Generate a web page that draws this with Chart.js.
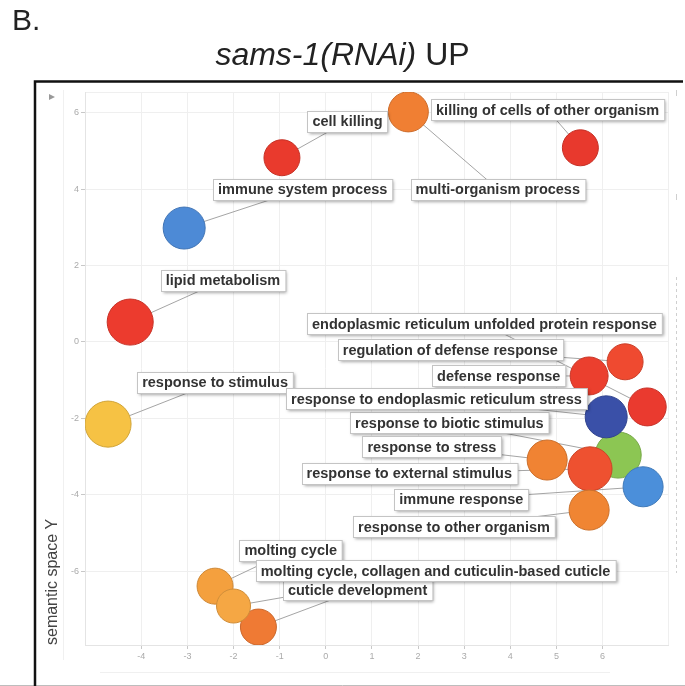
<!DOCTYPE html>
<html>
<head>
<meta charset="utf-8">
<title>sams-1(RNAi) UP</title>
<script src="https://cdn.jsdelivr.net/npm/chart.js"></script>
<style>
  body { margin: 0; background: #fff; font-family: "Liberation Sans", Arial, sans-serif; }
  #wrap { position: relative; width: 685px; height: 686px; overflow: hidden; }
  #panel { position: absolute; left: 12px; top: 3px; font-size: 30px; color: #222; }
  #title { position: absolute; left: 0; width: 685px; top: 36px; text-align: center; font-size: 32px; color: #222; }
  canvas { position: absolute; left: 0; top: 0; }
</style>
</head>
<body>
<div id="wrap">
  <canvas id="revigo" width="685" height="686"></canvas>
  <div id="panel">B.</div>
  <div id="title"><i>sams-1(RNAi)</i> UP</div>
</div>

<script>
// GO terms, semantic space coordinates and log10(size)
const terms = [
  'lipid metabolism', 'response to stimulus', 'immune system process', 'cell killing',
  'multi-organism process', 'killing of cells of other organism', 'response to biotic stimulus',
  'endoplasmic reticulum unfolded protein response', 'regulation of defense response',
  'defense response', 'response to endoplasmic reticulum stress', 'response to stress',
  'response to external stimulus', 'immune response', 'response to other organism',
  'molting cycle', 'cuticle development', 'molting cycle, collagen and cuticulin-based cuticle'
];
const semX = [-4.24, -4.72, -3.07, -0.95, 1.79, 5.52, 6.34, 6.97, 6.49, 5.71, 6.08, 4.80, 5.73, 6.88, 5.71, -2.40, -1.46, -2.00];
const semY = [0.52, -2.15, 2.98, 4.82, 6.02, 5.08, -2.96, -1.70, -0.52, -0.89, -1.96, -3.09, -3.32, -3.79, -4.40, -6.39, -7.46, -6.91];
const logSize = [3.29, 3.29, 3.0, 2.57, 2.86, 2.57, 3.29, 2.71, 2.57, 2.71, 3.0, 2.86, 3.14, 2.86, 2.86, 2.57, 2.57, 2.43];

// label placement (semantic space units) and bubble colours
const labelX = [-2.23, -2.40, -0.50, 0.47, 3.73, 4.81, 2.68, 3.44, 2.70, 3.75, 2.40, 2.30, 1.81, 2.94, 2.78, -0.76, 0.69, 2.38];
const labelY = [1.61, -1.05, 4.00, 5.78, 4.00, 6.07, -2.11, 0.47, -0.20, -0.89, -1.48, -2.74, -3.44, -4.11, -4.84, -5.45, -6.49, -5.99];
const bubbleColors = [
  '#ec3b2e', '#f6c244', '#4d8ad6', '#e93a2d', '#f07f33', '#e8392d', '#8cc653',
  '#ea3a2f', '#ef4a30', '#eb3f2e', '#3a50a8', '#f08333', '#ee5130', '#4b8fda',
  '#f08533', '#f4a03e', '#ef7a34', '#f5a744'
];

const xTicks = [-4, 6];   // labelled x range
const yTicks = [-6, 6];   // labelled y range

const darken = (hex, f) => {
  const n = parseInt(hex.slice(1), 16);
  const r = Math.round(((n >> 16) & 255) * f), g = Math.round(((n >> 8) & 255) * f), b = Math.round((n & 255) * f);
  return `rgb(${r},${g},${b})`;
};

const framePlugin = {
  id: 'frame',
  beforeDraw(chart) {
    const ctx = chart.ctx;
    ctx.save();
    ctx.fillStyle = '#fff';
    ctx.fillRect(0, 0, chart.width, chart.height);
    // faint outer panel lines
    ctx.strokeStyle = '#f0f0f0';
    ctx.lineWidth = 1;
    ctx.beginPath();
    ctx.moveTo(63.5, 90); ctx.lineTo(63.5, 660);
    ctx.moveTo(100, 672.5); ctx.lineTo(610, 672.5);
    ctx.stroke();
    ctx.strokeStyle = '#bdbdbd';
    ctx.beginPath();
    ctx.moveTo(0, 685.5); ctx.lineTo(685, 685.5);
    ctx.stroke();
    // black frame
    ctx.strokeStyle = '#111';
    ctx.lineWidth = 2.5;
    ctx.beginPath();
    ctx.moveTo(35, 686); ctx.lineTo(35, 81.5); ctx.lineTo(683, 81.5);
    ctx.stroke();
    // small toolbar triangle
    ctx.fillStyle = '#999';
    ctx.beginPath();
    ctx.moveTo(49, 94); ctx.lineTo(55, 97); ctx.lineTo(49, 100); ctx.closePath();
    ctx.fill();
    // side legend remnants
    ctx.strokeStyle = '#cfcfcf';
    ctx.lineWidth = 1;
    ctx.setLineDash([3, 3]);
    ctx.beginPath();
    ctx.moveTo(676.5, 277); ctx.lineTo(676.5, 573);
    ctx.stroke();
    ctx.setLineDash([]);
    ctx.beginPath();
    ctx.moveTo(676.5, 90); ctx.lineTo(676.5, 96);
    ctx.moveTo(676.5, 194); ctx.lineTo(676.5, 200);
    ctx.stroke();
    ctx.restore();
  },
  beforeDatasetsDraw(chart) {
    const ctx = chart.ctx, pts = chart.getDatasetMeta(0).data;
    const xs = chart.scales.x, ys = chart.scales.y;
    ctx.save();
    ctx.strokeStyle = '#9a9a9a';
    ctx.lineWidth = 0.9;
    pts.forEach((p, i) => {
      ctx.beginPath();
      ctx.moveTo(p.x, p.y);
      ctx.lineTo(xs.getPixelForValue(labelX[i]), ys.getPixelForValue(labelY[i]));
      ctx.stroke();
    });
    ctx.restore();
  },
  afterDatasetsDraw(chart) {
    const ctx = chart.ctx;
    const xs = chart.scales.x, ys = chart.scales.y;
    ctx.save();
    ctx.font = 'bold 14.5px "Liberation Sans", Arial, sans-serif';
    ctx.textAlign = 'center';
    ctx.textBaseline = 'middle';
    terms.forEach((t, i) => {
      const cx = xs.getPixelForValue(labelX[i]), cy = ys.getPixelForValue(labelY[i]);
      const w = ctx.measureText(t).width + 10, h = 21;
      const bx = Math.round(cx - w / 2) + 0.5, by = Math.round(cy - h / 2) + 0.5;
      ctx.shadowColor = 'rgba(0,0,0,0.35)';
      ctx.shadowBlur = 3;
      ctx.shadowOffsetX = 1.5;
      ctx.shadowOffsetY = 1.5;
      ctx.fillStyle = '#fff';
      ctx.fillRect(bx, by, w, h);
      ctx.shadowColor = 'transparent';
      ctx.strokeStyle = '#c4c4c4';
      ctx.lineWidth = 1;
      ctx.strokeRect(bx, by, w, h);
      ctx.fillStyle = '#333';
      ctx.fillText(t, cx, cy + 1);
    });
    ctx.restore();
  }
};

const inRange = (v, r) => Number.isInteger(v) && v >= r[0] && v <= r[1];

new Chart(document.getElementById('revigo').getContext('2d'), {
  type: 'bubble',
  data: {
    datasets: [{
      data: semX.map((x, i) => ({ x: x, y: semY[i], r: logSize[i] * 7 })),
      backgroundColor: bubbleColors,
      borderColor: bubbleColors.map(c => darken(c, 0.85)),
      borderWidth: 1
    }]
  },
  options: {
    responsive: false,
    animation: false,
    devicePixelRatio: 1,
    events: [],
    layout: { autoPadding: false, padding: { left: 0, top: 92, right: 17, bottom: 0 } },
    plugins: { legend: { display: false }, tooltip: { enabled: false } },
    scales: {
      x: {
        type: 'linear',
        min: -5.22,
        max: 7.42,
        afterFit: s => { s.height = 41; },
        ticks: {
          stepSize: 1,
          color: '#aaa',
          font: { size: 9 },
          padding: 2,
          callback: v => inRange(v, xTicks) ? v : ''
        },
        grid: {
          color: '#efefef',
          tickLength: 4,
          tickColor: c => (c.tick && inRange(c.tick.value, xTicks)) ? '#c8c8c8' : 'rgba(0,0,0,0)'
        },
        border: { color: '#e4e4e4' }
      },
      y: {
        type: 'linear',
        min: -7.93,
        max: 6.54,
        afterFit: s => { s.width = 85; },
        ticks: {
          stepSize: 2,
          color: '#aaa',
          font: { size: 9 },
          padding: 2,
          callback: v => inRange(v, yTicks) ? v : ''
        },
        grid: {
          color: '#efefef',
          tickLength: 4,
          tickColor: c => (c.tick && inRange(c.tick.value, yTicks)) ? '#c8c8c8' : 'rgba(0,0,0,0)'
        },
        border: { color: '#e4e4e4' },
        title: {
          display: true,
          text: 'semantic space Y',
          align: 'start',
          color: '#444',
          font: { size: 16 },
          padding: { top: 43, bottom: 0 }
        }
      }
    }
  },
  plugins: [framePlugin]
});
</script>
</body>
</html>
